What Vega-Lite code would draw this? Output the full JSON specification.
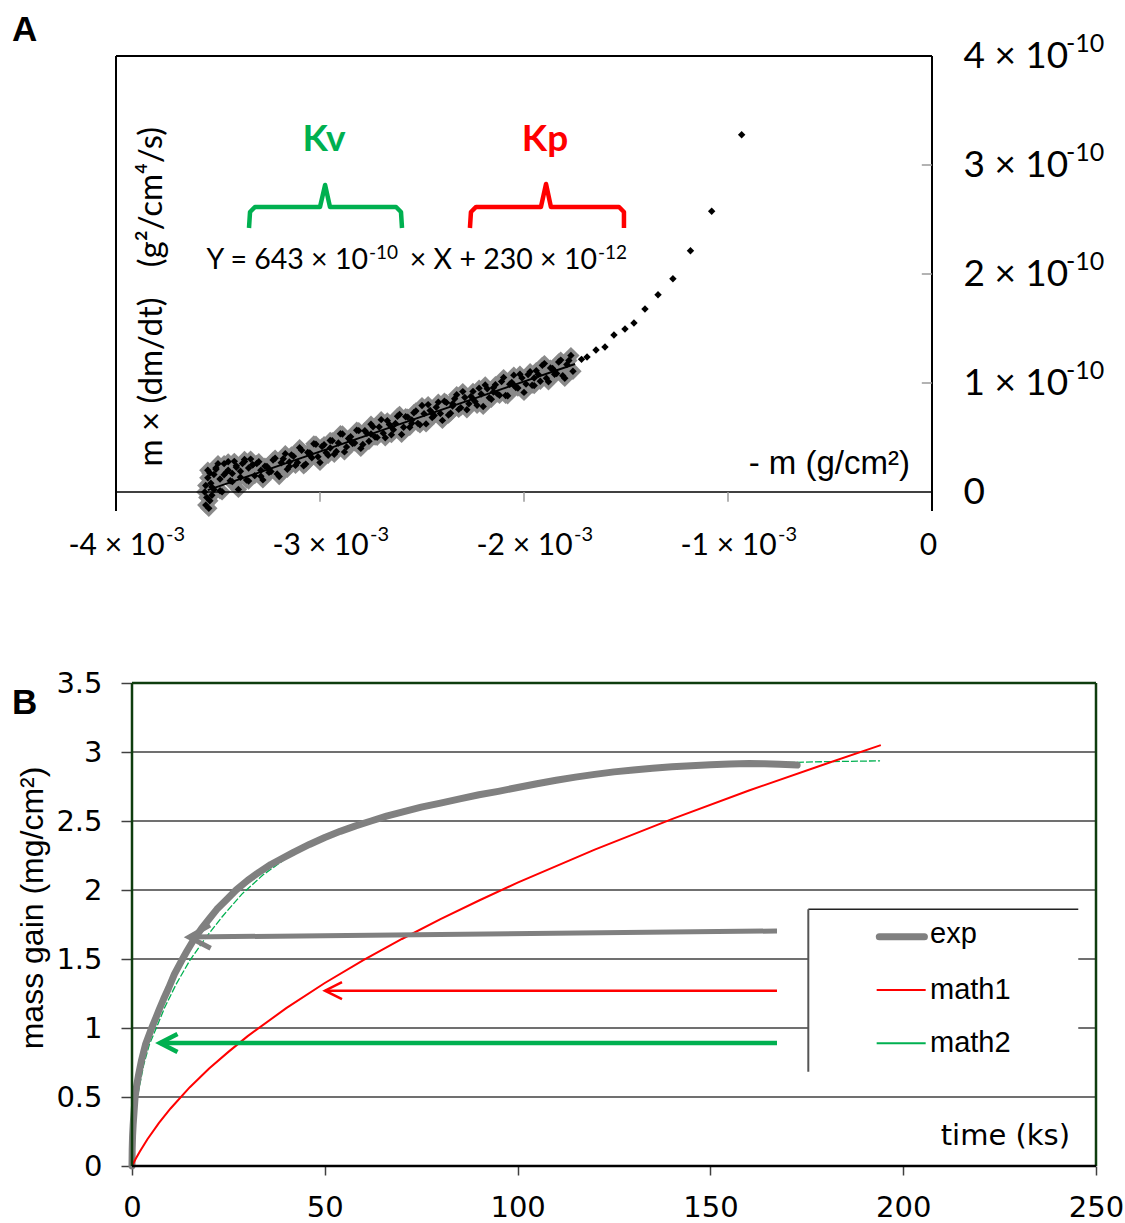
{
  "$schema": "https://vega.github.io/schema/vega-lite/v6.json",
  "width": 1125,
  "height": 1223,
  "autosize": {"type": "none"},
  "padding": 0,
  "background": "white",
  "config": {
    "view": {"stroke": null},
    "axis": {"grid": false, "domain": false, "labelOverlap": false, "labelFlush": false, "labelColor": "black", "labelBound": false}
  },
  "datasets": {
    "scatter": [
      {"X": -3.565e-3, "Y": 0.0e-10, "s": "fit"},
      {"X": -3.56e-3, "Y": -0.12e-10, "s": "fit"},
      {"X": -3.555e-3, "Y": -0.05e-10, "s": "fit"},
      {"X": -3.56e-3, "Y": 0.06e-10, "s": "fit"},
      {"X": -3.55e-3, "Y": 0.13e-10, "s": "fit"},
      {"X": -3.545e-3, "Y": -0.15e-10, "s": "fit"},
      {"X": -3.55e-3, "Y": 0.2e-10, "s": "fit"},
      {"X": -3.54e-3, "Y": -0.08e-10, "s": "fit"},
      {"X": -3.535e-3, "Y": 0.08e-10, "s": "fit"},
      {"X": -3.53e-3, "Y": -0.03e-10, "s": "fit"},
      {"X": -3.52e-3, "Y": 0.16e-10, "s": "fit"},
      {"X": -3.51e-3, "Y": 0.22e-10, "s": "fit"},
      {"X": -3.49e-3, "Y": 0.12e-10, "s": "fit"},
      {"X": -3.47e-3, "Y": 0.26e-10, "s": "fit"},
      {"X": -3.45e-3, "Y": 0.2e-10, "s": "fit"},
      {"X": -3.43e-3, "Y": 0.17e-10, "s": "fit"},
      {"X": -3.41e-3, "Y": 0.24e-10, "s": "fit"},
      {"X": -3.39e-3, "Y": 0.19e-10, "s": "fit"},
      {"X": -3.37e-3, "Y": 0.28e-10, "s": "fit"},
      {"X": -3.35e-3, "Y": 0.22e-10, "s": "fit"},
      {"X": -3.33e-3, "Y": 0.25e-10, "s": "fit"},
      {"X": -3.29e-3, "Y": 0.2e-10, "s": "fit"},
      {"X": -3.54e-3, "Y": 0.174e-10, "s": "fit"},
      {"X": -3.52e-3, "Y": 0.022e-10, "s": "fit"},
      {"X": -3.50e-3, "Y": 0.26e-10, "s": "fit"},
      {"X": -3.48e-3, "Y": 0.002e-10, "s": "fit"},
      {"X": -3.46e-3, "Y": 0.18e-10, "s": "fit"},
      {"X": -3.44e-3, "Y": 0.103e-10, "s": "fit"},
      {"X": -3.42e-3, "Y": 0.281e-10, "s": "fit"},
      {"X": -3.40e-3, "Y": 0.024e-10, "s": "fit"},
      {"X": -3.38e-3, "Y": 0.262e-10, "s": "fit"},
      {"X": -3.36e-3, "Y": 0.11e-10, "s": "fit"},
      {"X": -3.34e-3, "Y": 0.302e-10, "s": "fit"},
      {"X": -3.32e-3, "Y": 0.15e-10, "s": "fit"},
      {"X": -3.30e-3, "Y": 0.278e-10, "s": "fit"},
      {"X": -3.28e-3, "Y": 0.111e-10, "s": "fit"},
      {"X": -3.26e-3, "Y": 0.234e-10, "s": "fit"},
      {"X": -3.24e-3, "Y": 0.187e-10, "s": "fit"},
      {"X": -3.22e-3, "Y": 0.31e-10, "s": "fit"},
      {"X": -3.20e-3, "Y": 0.142e-10, "s": "fit"},
      {"X": -3.18e-3, "Y": 0.305e-10, "s": "fit"},
      {"X": -3.16e-3, "Y": 0.208e-10, "s": "fit"},
      {"X": -3.14e-3, "Y": 0.341e-10, "s": "fit"},
      {"X": -3.12e-3, "Y": 0.244e-10, "s": "fit"},
      {"X": -3.10e-3, "Y": 0.407e-10, "s": "fit"},
      {"X": -3.08e-3, "Y": 0.24e-10, "s": "fit"},
      {"X": -3.06e-3, "Y": 0.362e-10, "s": "fit"},
      {"X": -3.04e-3, "Y": 0.315e-10, "s": "fit"},
      {"X": -3.02e-3, "Y": 0.438e-10, "s": "fit"},
      {"X": -3.00e-3, "Y": 0.271e-10, "s": "fit"},
      {"X": -2.98e-3, "Y": 0.434e-10, "s": "fit"},
      {"X": -2.96e-3, "Y": 0.337e-10, "s": "fit"},
      {"X": -2.94e-3, "Y": 0.47e-10, "s": "fit"},
      {"X": -2.92e-3, "Y": 0.372e-10, "s": "fit"},
      {"X": -2.90e-3, "Y": 0.535e-10, "s": "fit"},
      {"X": -2.88e-3, "Y": 0.368e-10, "s": "fit"},
      {"X": -2.86e-3, "Y": 0.491e-10, "s": "fit"},
      {"X": -2.84e-3, "Y": 0.444e-10, "s": "fit"},
      {"X": -2.82e-3, "Y": 0.567e-10, "s": "fit"},
      {"X": -2.80e-3, "Y": 0.40e-10, "s": "fit"},
      {"X": -2.78e-3, "Y": 0.562e-10, "s": "fit"},
      {"X": -2.76e-3, "Y": 0.465e-10, "s": "fit"},
      {"X": -2.74e-3, "Y": 0.598e-10, "s": "fit"},
      {"X": -2.72e-3, "Y": 0.501e-10, "s": "fit"},
      {"X": -2.70e-3, "Y": 0.664e-10, "s": "fit"},
      {"X": -2.68e-3, "Y": 0.497e-10, "s": "fit"},
      {"X": -2.66e-3, "Y": 0.62e-10, "s": "fit"},
      {"X": -2.64e-3, "Y": 0.572e-10, "s": "fit"},
      {"X": -2.62e-3, "Y": 0.695e-10, "s": "fit"},
      {"X": -2.60e-3, "Y": 0.528e-10, "s": "fit"},
      {"X": -2.58e-3, "Y": 0.691e-10, "s": "fit"},
      {"X": -2.56e-3, "Y": 0.594e-10, "s": "fit"},
      {"X": -2.54e-3, "Y": 0.727e-10, "s": "fit"},
      {"X": -2.52e-3, "Y": 0.63e-10, "s": "fit"},
      {"X": -2.50e-3, "Y": 0.793e-10, "s": "fit"},
      {"X": -2.48e-3, "Y": 0.625e-10, "s": "fit"},
      {"X": -2.46e-3, "Y": 0.748e-10, "s": "fit"},
      {"X": -2.44e-3, "Y": 0.701e-10, "s": "fit"},
      {"X": -2.42e-3, "Y": 0.824e-10, "s": "fit"},
      {"X": -2.40e-3, "Y": 0.657e-10, "s": "fit"},
      {"X": -2.38e-3, "Y": 0.82e-10, "s": "fit"},
      {"X": -2.36e-3, "Y": 0.723e-10, "s": "fit"},
      {"X": -2.34e-3, "Y": 0.855e-10, "s": "fit"},
      {"X": -2.32e-3, "Y": 0.758e-10, "s": "fit"},
      {"X": -2.30e-3, "Y": 0.921e-10, "s": "fit"},
      {"X": -2.28e-3, "Y": 0.754e-10, "s": "fit"},
      {"X": -2.26e-3, "Y": 0.877e-10, "s": "fit"},
      {"X": -2.24e-3, "Y": 0.83e-10, "s": "fit"},
      {"X": -2.22e-3, "Y": 0.953e-10, "s": "fit"},
      {"X": -2.20e-3, "Y": 0.785e-10, "s": "fit"},
      {"X": -2.18e-3, "Y": 0.948e-10, "s": "fit"},
      {"X": -2.16e-3, "Y": 0.851e-10, "s": "fit"},
      {"X": -2.14e-3, "Y": 0.984e-10, "s": "fit"},
      {"X": -2.12e-3, "Y": 0.887e-10, "s": "fit"},
      {"X": -2.10e-3, "Y": 1.05e-10, "s": "fit"},
      {"X": -2.08e-3, "Y": 0.883e-10, "s": "fit"},
      {"X": -2.06e-3, "Y": 1.005e-10, "s": "fit"},
      {"X": -2.04e-3, "Y": 0.958e-10, "s": "fit"},
      {"X": -2.02e-3, "Y": 1.081e-10, "s": "fit"},
      {"X": -2.00e-3, "Y": 0.914e-10, "s": "fit"},
      {"X": -1.98e-3, "Y": 1.077e-10, "s": "fit"},
      {"X": -1.96e-3, "Y": 0.98e-10, "s": "fit"},
      {"X": -1.94e-3, "Y": 1.113e-10, "s": "fit"},
      {"X": -1.92e-3, "Y": 1.016e-10, "s": "fit"},
      {"X": -1.90e-3, "Y": 1.178e-10, "s": "fit"},
      {"X": -1.88e-3, "Y": 1.011e-10, "s": "fit"},
      {"X": -1.86e-3, "Y": 1.134e-10, "s": "fit"},
      {"X": -1.84e-3, "Y": 1.087e-10, "s": "fit"},
      {"X": -1.82e-3, "Y": 1.21e-10, "s": "fit"},
      {"X": -1.80e-3, "Y": 1.043e-10, "s": "fit"},
      {"X": -1.78e-3, "Y": 1.206e-10, "s": "fit"},
      {"X": -1.76e-3, "Y": 1.108e-10, "s": "fit"},
      {"X": -3.25e-3, "Y": 0.21e-10, "s": "fit"},
      {"X": -3.15e-3, "Y": 0.275e-10, "s": "fit"},
      {"X": -3.05e-3, "Y": 0.339e-10, "s": "fit"},
      {"X": -2.95e-3, "Y": 0.403e-10, "s": "fit"},
      {"X": -2.85e-3, "Y": 0.467e-10, "s": "fit"},
      {"X": -2.75e-3, "Y": 0.532e-10, "s": "fit"},
      {"X": -2.65e-3, "Y": 0.596e-10, "s": "fit"},
      {"X": -2.55e-3, "Y": 0.66e-10, "s": "fit"},
      {"X": -2.45e-3, "Y": 0.725e-10, "s": "fit"},
      {"X": -2.35e-3, "Y": 0.789e-10, "s": "fit"},
      {"X": -2.25e-3, "Y": 0.853e-10, "s": "fit"},
      {"X": -2.15e-3, "Y": 0.918e-10, "s": "fit"},
      {"X": -2.05e-3, "Y": 0.982e-10, "s": "fit"},
      {"X": -1.95e-3, "Y": 1.046e-10, "s": "fit"},
      {"X": -1.85e-3, "Y": 1.111e-10, "s": "fit"},
      {"X": -3.53e-3, "Y": 0.045e-10, "s": "fit"},
      {"X": -3.51e-3, "Y": 0.208e-10, "s": "fit"},
      {"X": -3.49e-3, "Y": 0.011e-10, "s": "fit"},
      {"X": -3.47e-3, "Y": 0.159e-10, "s": "fit"},
      {"X": -3.45e-3, "Y": 0.277e-10, "s": "fit"},
      {"X": -3.43e-3, "Y": 0.095e-10, "s": "fit"},
      {"X": -3.41e-3, "Y": 0.227e-10, "s": "fit"},
      {"X": -3.39e-3, "Y": 0.135e-10, "s": "fit"},
      {"X": -3.37e-3, "Y": 0.298e-10, "s": "fit"},
      {"X": -3.35e-3, "Y": 0.101e-10, "s": "fit"},
      {"X": -3.33e-3, "Y": 0.249e-10, "s": "fit"},
      {"X": -3.31e-3, "Y": 0.262e-10, "s": "fit"},
      {"X": -3.29e-3, "Y": 0.145e-10, "s": "fit"},
      {"X": -3.27e-3, "Y": 0.237e-10, "s": "fit"},
      {"X": -3.25e-3, "Y": 0.18e-10, "s": "fit"},
      {"X": -3.23e-3, "Y": 0.293e-10, "s": "fit"},
      {"X": -3.21e-3, "Y": 0.166e-10, "s": "fit"},
      {"X": -3.19e-3, "Y": 0.269e-10, "s": "fit"},
      {"X": -3.17e-3, "Y": 0.352e-10, "s": "fit"},
      {"X": -3.15e-3, "Y": 0.235e-10, "s": "fit"},
      {"X": -3.13e-3, "Y": 0.327e-10, "s": "fit"},
      {"X": -3.11e-3, "Y": 0.27e-10, "s": "fit"},
      {"X": -3.09e-3, "Y": 0.383e-10, "s": "fit"},
      {"X": -3.07e-3, "Y": 0.256e-10, "s": "fit"},
      {"X": -3.05e-3, "Y": 0.359e-10, "s": "fit"},
      {"X": -3.03e-3, "Y": 0.442e-10, "s": "fit"},
      {"X": -3.01e-3, "Y": 0.324e-10, "s": "fit"},
      {"X": -2.99e-3, "Y": 0.417e-10, "s": "fit"},
      {"X": -2.97e-3, "Y": 0.36e-10, "s": "fit"},
      {"X": -2.95e-3, "Y": 0.473e-10, "s": "fit"},
      {"X": -2.93e-3, "Y": 0.346e-10, "s": "fit"},
      {"X": -2.91e-3, "Y": 0.449e-10, "s": "fit"},
      {"X": -2.89e-3, "Y": 0.532e-10, "s": "fit"},
      {"X": -2.87e-3, "Y": 0.414e-10, "s": "fit"},
      {"X": -2.85e-3, "Y": 0.507e-10, "s": "fit"},
      {"X": -2.83e-3, "Y": 0.45e-10, "s": "fit"},
      {"X": -2.81e-3, "Y": 0.563e-10, "s": "fit"},
      {"X": -2.79e-3, "Y": 0.436e-10, "s": "fit"},
      {"X": -2.77e-3, "Y": 0.539e-10, "s": "fit"},
      {"X": -2.75e-3, "Y": 0.622e-10, "s": "fit"},
      {"X": -2.73e-3, "Y": 0.504e-10, "s": "fit"},
      {"X": -2.71e-3, "Y": 0.597e-10, "s": "fit"},
      {"X": -2.69e-3, "Y": 0.54e-10, "s": "fit"},
      {"X": -2.67e-3, "Y": 0.653e-10, "s": "fit"},
      {"X": -2.65e-3, "Y": 0.526e-10, "s": "fit"},
      {"X": -2.63e-3, "Y": 0.629e-10, "s": "fit"},
      {"X": -2.61e-3, "Y": 0.712e-10, "s": "fit"},
      {"X": -2.59e-3, "Y": 0.594e-10, "s": "fit"},
      {"X": -2.57e-3, "Y": 0.687e-10, "s": "fit"},
      {"X": -2.55e-3, "Y": 0.63e-10, "s": "fit"},
      {"X": -2.53e-3, "Y": 0.743e-10, "s": "fit"},
      {"X": -2.51e-3, "Y": 0.616e-10, "s": "fit"},
      {"X": -2.49e-3, "Y": 0.719e-10, "s": "fit"},
      {"X": -2.47e-3, "Y": 0.802e-10, "s": "fit"},
      {"X": -2.45e-3, "Y": 0.684e-10, "s": "fit"},
      {"X": -2.43e-3, "Y": 0.777e-10, "s": "fit"},
      {"X": -2.41e-3, "Y": 0.72e-10, "s": "fit"},
      {"X": -2.39e-3, "Y": 0.833e-10, "s": "fit"},
      {"X": -2.37e-3, "Y": 0.706e-10, "s": "fit"},
      {"X": -2.35e-3, "Y": 0.809e-10, "s": "fit"},
      {"X": -2.33e-3, "Y": 0.892e-10, "s": "fit"},
      {"X": -2.31e-3, "Y": 0.774e-10, "s": "fit"},
      {"X": -2.29e-3, "Y": 0.867e-10, "s": "fit"},
      {"X": -2.27e-3, "Y": 0.81e-10, "s": "fit"},
      {"X": -2.25e-3, "Y": 0.923e-10, "s": "fit"},
      {"X": -2.23e-3, "Y": 0.796e-10, "s": "fit"},
      {"X": -2.21e-3, "Y": 0.899e-10, "s": "fit"},
      {"X": -2.19e-3, "Y": 0.982e-10, "s": "fit"},
      {"X": -2.17e-3, "Y": 0.864e-10, "s": "fit"},
      {"X": -2.15e-3, "Y": 0.957e-10, "s": "fit"},
      {"X": -2.13e-3, "Y": 0.9e-10, "s": "fit"},
      {"X": -2.11e-3, "Y": 1.013e-10, "s": "fit"},
      {"X": -2.09e-3, "Y": 0.886e-10, "s": "fit"},
      {"X": -2.07e-3, "Y": 0.989e-10, "s": "fit"},
      {"X": -2.05e-3, "Y": 1.072e-10, "s": "fit"},
      {"X": -2.03e-3, "Y": 0.954e-10, "s": "fit"},
      {"X": -2.01e-3, "Y": 1.047e-10, "s": "fit"},
      {"X": -1.99e-3, "Y": 0.99e-10, "s": "fit"},
      {"X": -1.97e-3, "Y": 1.103e-10, "s": "fit"},
      {"X": -1.95e-3, "Y": 0.976e-10, "s": "fit"},
      {"X": -1.93e-3, "Y": 1.079e-10, "s": "fit"},
      {"X": -1.91e-3, "Y": 1.162e-10, "s": "fit"},
      {"X": -1.89e-3, "Y": 1.044e-10, "s": "fit"},
      {"X": -1.87e-3, "Y": 1.137e-10, "s": "fit"},
      {"X": -1.85e-3, "Y": 1.08e-10, "s": "fit"},
      {"X": -1.83e-3, "Y": 1.193e-10, "s": "fit"},
      {"X": -1.81e-3, "Y": 1.066e-10, "s": "fit"},
      {"X": -1.79e-3, "Y": 1.169e-10, "s": "fit"},
      {"X": -1.77e-3, "Y": 1.252e-10, "s": "fit"},
      {"X": -1.718e-3, "Y": 1.217e-10, "s": "tail"},
      {"X": -1.691e-3, "Y": 1.239e-10, "s": "tail"},
      {"X": -1.647e-3, "Y": 1.303e-10, "s": "tail"},
      {"X": -1.603e-3, "Y": 1.33e-10, "s": "tail"},
      {"X": -1.559e-3, "Y": 1.44e-10, "s": "tail"},
      {"X": -1.505e-3, "Y": 1.495e-10, "s": "tail"},
      {"X": -1.461e-3, "Y": 1.55e-10, "s": "tail"},
      {"X": -1.407e-3, "Y": 1.679e-10, "s": "tail"},
      {"X": -1.343e-3, "Y": 1.81e-10, "s": "tail"},
      {"X": -1.27e-3, "Y": 1.957e-10, "s": "tail"},
      {"X": -1.184e-3, "Y": 2.214e-10, "s": "tail"},
      {"X": -1.08e-3, "Y": 2.575e-10, "s": "tail"},
      {"X": -0.933e-3, "Y": 3.278e-10, "s": "tail"}
    ],
    "fit": [
      {"X": -3.55e-3, "Y": 0.01735e-10},
      {"X": -1.75e-3, "Y": 1.17475e-10}
    ],
    "braces": [
      {"brace": "Kv", "i": 0, "X": -3.348e-3, "Y": 2.422e-10},
      {"brace": "Kv", "i": 1, "X": -3.343e-3, "Y": 2.569e-10},
      {"brace": "Kv", "i": 2, "X": -3.319e-3, "Y": 2.615e-10},
      {"brace": "Kv", "i": 3, "X": -3.0e-3, "Y": 2.615e-10},
      {"brace": "Kv", "i": 4, "X": -2.975e-3, "Y": 2.817e-10},
      {"brace": "Kv", "i": 5, "X": -2.951e-3, "Y": 2.615e-10},
      {"brace": "Kv", "i": 6, "X": -2.627e-3, "Y": 2.615e-10},
      {"brace": "Kv", "i": 7, "X": -2.603e-3, "Y": 2.569e-10},
      {"brace": "Kv", "i": 8, "X": -2.598e-3, "Y": 2.422e-10},
      {"brace": "Kp", "i": 0, "X": -2.265e-3, "Y": 2.422e-10},
      {"brace": "Kp", "i": 1, "X": -2.26e-3, "Y": 2.569e-10},
      {"brace": "Kp", "i": 2, "X": -2.235e-3, "Y": 2.615e-10},
      {"brace": "Kp", "i": 3, "X": -1.917e-3, "Y": 2.615e-10},
      {"brace": "Kp", "i": 4, "X": -1.892e-3, "Y": 2.826e-10},
      {"brace": "Kp", "i": 5, "X": -1.868e-3, "Y": 2.615e-10},
      {"brace": "Kp", "i": 6, "X": -1.534e-3, "Y": 2.615e-10},
      {"brace": "Kp", "i": 7, "X": -1.51e-3, "Y": 2.569e-10},
      {"brace": "Kp", "i": 8, "X": -1.51e-3, "Y": 2.422e-10}
    ],
    "aticks": [
      {"X": -3e-3, "X2": -3e-3, "Y": 0, "Y2": -0.09e-10},
      {"X": -2e-3, "X2": -2e-3, "Y": 0, "Y2": -0.09e-10},
      {"X": -1e-3, "X2": -1e-3, "Y": 0, "Y2": -0.09e-10},
      {"X": -0.05e-3, "X2": 0, "Y": 1e-10, "Y2": 1e-10},
      {"X": -0.05e-3, "X2": 0, "Y": 2e-10, "Y2": 2e-10},
      {"X": -0.05e-3, "X2": 0, "Y": 3e-10, "Y2": 3e-10}
    ],
    "xsup": [{"v": -0.004}, {"v": -0.003}, {"v": -0.002}, {"v": -0.001}],
    "ysup": [{"v": 1e-10}, {"v": 2e-10}, {"v": 3e-10}, {"v": 4e-10}],
    "massgain": [
      {"series": "exp", "t": 0, "m": 0},
      {"series": "exp", "t": 0.05, "m": 0.12},
      {"series": "exp", "t": 0.15, "m": 0.22},
      {"series": "exp", "t": 0.3, "m": 0.3},
      {"series": "exp", "t": 0.55, "m": 0.4},
      {"series": "exp", "t": 0.8, "m": 0.5},
      {"series": "exp", "t": 1.2, "m": 0.58},
      {"series": "exp", "t": 1.7, "m": 0.66},
      {"series": "exp", "t": 2.5, "m": 0.77},
      {"series": "exp", "t": 3.5, "m": 0.88},
      {"series": "exp", "t": 4.3, "m": 0.94},
      {"series": "exp", "t": 5.1, "m": 1.0},
      {"series": "exp", "t": 6, "m": 1.06},
      {"series": "exp", "t": 7, "m": 1.13},
      {"series": "exp", "t": 8.2, "m": 1.21},
      {"series": "exp", "t": 9.5, "m": 1.29},
      {"series": "exp", "t": 11, "m": 1.39},
      {"series": "exp", "t": 12.7, "m": 1.48},
      {"series": "exp", "t": 14.3, "m": 1.56},
      {"series": "exp", "t": 16, "m": 1.64},
      {"series": "exp", "t": 18, "m": 1.72},
      {"series": "exp", "t": 20, "m": 1.79},
      {"series": "exp", "t": 22, "m": 1.86},
      {"series": "exp", "t": 24.5, "m": 1.93},
      {"series": "exp", "t": 27, "m": 2.0},
      {"series": "exp", "t": 30, "m": 2.07},
      {"series": "exp", "t": 33, "m": 2.13},
      {"series": "exp", "t": 36, "m": 2.185},
      {"series": "exp", "t": 39, "m": 2.23},
      {"series": "exp", "t": 42, "m": 2.275},
      {"series": "exp", "t": 46, "m": 2.33},
      {"series": "exp", "t": 50, "m": 2.38},
      {"series": "exp", "t": 54, "m": 2.425},
      {"series": "exp", "t": 58, "m": 2.465},
      {"series": "exp", "t": 62, "m": 2.5},
      {"series": "exp", "t": 66, "m": 2.535},
      {"series": "exp", "t": 70, "m": 2.565},
      {"series": "exp", "t": 75, "m": 2.6},
      {"series": "exp", "t": 80, "m": 2.63},
      {"series": "exp", "t": 85, "m": 2.66},
      {"series": "exp", "t": 90, "m": 2.69},
      {"series": "exp", "t": 95, "m": 2.715},
      {"series": "exp", "t": 100, "m": 2.743},
      {"series": "exp", "t": 105, "m": 2.77},
      {"series": "exp", "t": 110, "m": 2.795},
      {"series": "exp", "t": 115, "m": 2.818},
      {"series": "exp", "t": 120, "m": 2.838},
      {"series": "exp", "t": 125, "m": 2.856},
      {"series": "exp", "t": 130, "m": 2.87},
      {"series": "exp", "t": 135, "m": 2.883},
      {"series": "exp", "t": 140, "m": 2.893},
      {"series": "exp", "t": 145, "m": 2.901},
      {"series": "exp", "t": 150, "m": 2.908},
      {"series": "exp", "t": 155, "m": 2.913},
      {"series": "exp", "t": 160, "m": 2.916},
      {"series": "exp", "t": 164, "m": 2.915},
      {"series": "exp", "t": 168, "m": 2.911},
      {"series": "exp", "t": 172.5, "m": 2.905},
      {"series": "math1", "t": 0, "m": 0},
      {"series": "math1", "t": 1, "m": 0.054},
      {"series": "math1", "t": 2, "m": 0.104},
      {"series": "math1", "t": 4, "m": 0.194},
      {"series": "math1", "t": 7, "m": 0.313},
      {"series": "math1", "t": 10, "m": 0.417},
      {"series": "math1", "t": 15, "m": 0.571},
      {"series": "math1", "t": 20, "m": 0.706},
      {"series": "math1", "t": 25, "m": 0.827},
      {"series": "math1", "t": 30, "m": 0.941},
      {"series": "math1", "t": 40, "m": 1.144},
      {"series": "math1", "t": 50, "m": 1.326},
      {"series": "math1", "t": 60, "m": 1.492},
      {"series": "math1", "t": 70, "m": 1.645},
      {"series": "math1", "t": 80, "m": 1.789},
      {"series": "math1", "t": 90, "m": 1.924},
      {"series": "math1", "t": 100, "m": 2.053},
      {"series": "math1", "t": 120, "m": 2.293},
      {"series": "math1", "t": 140, "m": 2.514},
      {"series": "math1", "t": 160, "m": 2.721},
      {"series": "math1", "t": 180, "m": 2.915},
      {"series": "math1", "t": 194.2, "m": 3.05},
      {"series": "math2", "t": 0, "m": 0},
      {"series": "math2", "t": 0.5, "m": 0.28},
      {"series": "math2", "t": 1.4, "m": 0.5},
      {"series": "math2", "t": 3, "m": 0.73},
      {"series": "math2", "t": 4.5, "m": 0.88},
      {"series": "math2", "t": 6.3, "m": 1.0},
      {"series": "math2", "t": 8.5, "m": 1.15},
      {"series": "math2", "t": 11.5, "m": 1.32},
      {"series": "math2", "t": 15, "m": 1.49},
      {"series": "math2", "t": 19, "m": 1.65},
      {"series": "math2", "t": 23.5, "m": 1.81},
      {"series": "math2", "t": 28.5, "m": 1.97},
      {"series": "math2", "t": 34, "m": 2.11},
      {"series": "math2", "t": 40, "m": 2.23},
      {"series": "math2", "t": 46, "m": 2.32},
      {"series": "math2", "t": 54, "m": 2.415},
      {"series": "math2", "t": 62, "m": 2.495},
      {"series": "math2", "t": 70, "m": 2.56},
      {"series": "math2", "t": 80, "m": 2.625},
      {"series": "math2", "t": 90, "m": 2.685},
      {"series": "math2", "t": 100, "m": 2.738},
      {"series": "math2", "t": 110, "m": 2.79},
      {"series": "math2", "t": 120, "m": 2.833},
      {"series": "math2", "t": 130, "m": 2.865},
      {"series": "math2", "t": 140, "m": 2.888},
      {"series": "math2", "t": 150, "m": 2.903},
      {"series": "math2", "t": 160, "m": 2.915},
      {"series": "math2", "t": 170, "m": 2.924},
      {"series": "math2", "t": 180, "m": 2.93},
      {"series": "math2", "t": 194, "m": 2.936}
    ],
    "arrows": [
      {"arrow": "exp", "part": "shaft", "i": 0, "t": 167.27, "m": 1.703},
      {"arrow": "exp", "part": "shaft", "i": 1, "t": 14.78, "m": 1.659},
      {"arrow": "exp", "part": "head", "i": 0, "t": 20.41, "m": 1.578},
      {"arrow": "exp", "part": "head", "i": 1, "t": 14.78, "m": 1.659},
      {"arrow": "exp", "part": "head", "i": 2, "t": 20.23, "m": 1.746},
      {"arrow": "math1", "part": "shaft", "i": 0, "t": 167.27, "m": 1.2703},
      {"arrow": "math1", "part": "shaft", "i": 1, "t": 50.05, "m": 1.2703},
      {"arrow": "math1", "part": "head", "i": 0, "t": 54.46, "m": 1.333},
      {"arrow": "math1", "part": "head", "i": 1, "t": 50.05, "m": 1.2703},
      {"arrow": "math1", "part": "head", "i": 2, "t": 54.46, "m": 1.21},
      {"arrow": "math2", "part": "shaft", "i": 0, "t": 167.27, "m": 0.8913},
      {"arrow": "math2", "part": "shaft", "i": 1, "t": 7.26, "m": 0.8913},
      {"arrow": "math2", "part": "head", "i": 0, "t": 11.8, "m": 0.9565},
      {"arrow": "math2", "part": "head", "i": 1, "t": 7.26, "m": 0.8913},
      {"arrow": "math2", "part": "head", "i": 2, "t": 11.8, "m": 0.826}
    ],
    "gridB": [
      {"level": 0.5}, {"level": 1}, {"level": 1.5}, {"level": 2}, {"level": 2.5}, {"level": 3}
    ]
  },
  "layer": [
    {
      "layer": [
        {
          "data": {"name": "scatter"},
          "transform": [{"filter": "datum.s == 'fit'"}],
          "mark": {"type": "point", "shape": "diamond", "filled": true, "color": "#8a8a8a", "size": 300, "opacity": 1},
          "encoding": {
            "x": {"field": "X", "type": "quantitative",
              "scale": {"domain": [-0.00456863, 0.00094608], "nice": false, "zero": false},
              "axis": {"orient": "bottom", "offset": -712, "values": [-0.004, -0.003, -0.002, -0.001, 0], "ticks": false, "tickSize": 0, "labelPadding": 19, "labelFont": "Lato", "labelFontSize": 30, "labelOffset": {"condition": {"test": "datum.value == 0", "value": -4}, "value": 0}, "labelExpr": "datum.value == 0 ? '0' : '-' + round(-datum.value * 1000) + ' × 10'", "title": null}},
            "y": {"field": "Y", "type": "quantitative",
              "scale": {"domain": [-6.7064e-10, 4.5138e-10], "nice": false, "zero": false},
              "axis": {"orient": "right", "offset": -193, "values": [0, 1e-10, 2e-10, 3e-10, 4e-10], "ticks": false, "tickSize": 0, "labelPadding": 31, "labelFont": "Lato", "labelFontSize": 37, "labelExpr": "datum.value == 0 ? '0' : round(datum.value * 1e10) + ' × 10'", "title": null}}
          }
        },
        {
          "data": {"name": "fit"},
          "mark": {"type": "line", "color": "black", "strokeWidth": 2},
          "encoding": {"x": {"field": "X", "type": "quantitative"}, "y": {"field": "Y", "type": "quantitative"}}
        },
        {
          "data": {"name": "scatter"},
          "mark": {"type": "point", "shape": "diamond", "filled": true, "color": "black", "size": 55, "opacity": 1},
          "encoding": {"x": {"field": "X", "type": "quantitative"}, "y": {"field": "Y", "type": "quantitative"}}
        },
        {
          "data": {"values": [{}]},
          "mark": {"type": "rule", "color": "black", "strokeWidth": 2},
          "encoding": {"x": {"datum": -0.004, "type": "quantitative"}, "x2": {"datum": 0}, "y": {"datum": 4e-10, "type": "quantitative"}}
        },
        {
          "data": {"values": [{}]},
          "mark": {"type": "rule", "color": "black", "strokeWidth": 2},
          "encoding": {"x": {"datum": -0.004, "type": "quantitative"}, "y": {"datum": 4e-10, "type": "quantitative"}, "y2": {"datum": -0.1743e-10}}
        },
        {
          "data": {"values": [{}]},
          "mark": {"type": "rule", "color": "black", "strokeWidth": 2},
          "encoding": {"x": {"datum": 0, "type": "quantitative"}, "y": {"datum": 4e-10, "type": "quantitative"}, "y2": {"datum": -0.1743e-10}}
        },
        {
          "data": {"values": [{}]},
          "mark": {"type": "rule", "color": "black", "strokeWidth": 1.5},
          "encoding": {"x": {"datum": -0.004, "type": "quantitative"}, "x2": {"datum": 0}, "y": {"datum": 0, "type": "quantitative"}}
        },
        {
          "data": {"name": "aticks"},
          "mark": {"type": "rule", "color": "#9a9a9a", "strokeWidth": 1.5},
          "encoding": {"x": {"field": "X", "type": "quantitative"}, "x2": {"field": "X2"}, "y": {"field": "Y", "type": "quantitative"}, "y2": {"field": "Y2"}}
        },
        {
          "data": {"name": "xsup"},
          "mark": {"type": "text", "text": "-3", "font": "Lato", "fontSize": 20, "color": "black", "align": "left", "baseline": "middle", "dx": 50},
          "encoding": {"x": {"field": "v", "type": "quantitative"}, "y": {"datum": -0.3945e-10, "type": "quantitative"}}
        },
        {
          "data": {"name": "ysup"},
          "mark": {"type": "text", "text": "-10", "font": "Lato", "fontSize": 25, "color": "black", "align": "left", "baseline": "middle", "dx": 134, "dy": -12},
          "encoding": {"x": {"datum": 0, "type": "quantitative"}, "y": {"field": "v", "type": "quantitative"}}
        },
        {
          "data": {"name": "braces"},
          "mark": {"type": "line", "strokeWidth": 4.5, "strokeJoin": "round"},
          "encoding": {
            "x": {"field": "X", "type": "quantitative"},
            "y": {"field": "Y", "type": "quantitative"},
            "order": {"field": "i"},
            "color": {"field": "brace", "type": "nominal", "scale": {"domain": ["Kv", "Kp"], "range": ["#00b050", "#ff0000"]}, "legend": null}
          }
        },
        {
          "data": {"values": [{}]},
          "mark": {"type": "text", "text": "Kv", "font": "Lato", "fontWeight": "bold", "fontSize": 37, "color": "#00b050", "align": "center", "baseline": "middle"},
          "encoding": {"x": {"datum": -0.00298, "type": "quantitative"}, "y": {"datum": 3.229e-10, "type": "quantitative"}}
        },
        {
          "data": {"values": [{}]},
          "mark": {"type": "text", "text": "Kp", "font": "Lato", "fontWeight": "bold", "fontSize": 37, "color": "#ff0000", "align": "center", "baseline": "middle"},
          "encoding": {"x": {"datum": -0.001897, "type": "quantitative"}, "y": {"datum": 3.229e-10, "type": "quantitative"}}
        },
        {
          "data": {"values": [{}]},
          "mark": {"type": "text", "text": "Y = 643 × 10", "font": "Lato", "fontSize": 28.5, "color": "black", "align": "right", "baseline": "middle"},
          "encoding": {"x": {"datum": -0.0027647, "type": "quantitative"}, "y": {"datum": 2.128e-10, "type": "quantitative"}}
        },
        {
          "data": {"values": [{}]},
          "mark": {"type": "text", "text": "-10", "font": "Lato", "fontSize": 19, "color": "black", "align": "left", "baseline": "middle", "dx": 1},
          "encoding": {"x": {"datum": -0.0027647, "type": "quantitative"}, "y": {"datum": 2.193e-10, "type": "quantitative"}}
        },
        {
          "data": {"values": [{}]},
          "mark": {"type": "text", "text": "× X + 230 × 10", "font": "Lato", "fontSize": 28.5, "color": "black", "align": "right", "baseline": "middle"},
          "encoding": {"x": {"datum": -0.0016422, "type": "quantitative"}, "y": {"datum": 2.128e-10, "type": "quantitative"}}
        },
        {
          "data": {"values": [{}]},
          "mark": {"type": "text", "text": "-12", "font": "Lato", "fontSize": 19, "color": "black", "align": "left", "baseline": "middle", "dx": 1},
          "encoding": {"x": {"datum": -0.0016422, "type": "quantitative"}, "y": {"datum": 2.193e-10, "type": "quantitative"}}
        },
        {
          "data": {"values": [{}]},
          "mark": {"type": "text", "text": "m × (dm/dt)", "font": "Lato", "fontSize": 33, "color": "black", "align": "center", "baseline": "middle", "angle": 270},
          "encoding": {"x": {"datum": -0.0038235, "type": "quantitative"}, "y": {"datum": 1.009e-10, "type": "quantitative"}}
        },
        {
          "data": {"values": [{}]},
          "mark": {"type": "text", "text": "(g²/cm⁴/s)", "font": "Lato", "fontSize": 33, "color": "black", "align": "center", "baseline": "middle", "angle": 270},
          "encoding": {"x": {"datum": -0.0038235, "type": "quantitative"}, "y": {"datum": 2.706e-10, "type": "quantitative"}}
        },
        {
          "data": {"values": [{}]},
          "mark": {"type": "text", "text": "- m (g/cm²)", "font": "Liberation Sans", "fontSize": 33, "color": "black", "align": "right", "baseline": "middle"},
          "encoding": {"x": {"datum": -0.000108, "type": "quantitative"}, "y": {"datum": 0.257e-10, "type": "quantitative"}}
        },
        {
          "data": {"values": [{}]},
          "mark": {"type": "text", "text": "A", "font": "Liberation Sans", "fontWeight": "bold", "fontSize": 35, "color": "black", "align": "left", "baseline": "middle"},
          "encoding": {"x": {"datum": -0.0045098, "type": "quantitative"}, "y": {"datum": 4.2385e-10, "type": "quantitative"}}
        }
      ]
    },
    {
      "layer": [
        {
          "data": {"name": "gridB"},
          "mark": {"type": "rule", "color": "#404040", "strokeWidth": 1.5},
          "encoding": {"x": {"datum": 0, "type": "quantitative"}, "x2": {"datum": 250}, "y": {"field": "level", "type": "quantitative"}}
        },
        {
          "data": {"name": "massgain"},
          "transform": [{"filter": "datum.series == 'math2'"}],
          "mark": {"type": "line", "color": "#00b050", "strokeWidth": 1.3, "strokeDash": [7, 2]},
          "encoding": {
            "x": {"field": "t", "type": "quantitative",
              "scale": {"domain": [-34.2324, 257.5207], "nice": false, "zero": false},
              "axis": {"orient": "bottom", "offset": -57, "values": [0, 50, 100, 150, 200, 250], "ticks": true, "tickSize": 9, "tickColor": "#404040", "tickWidth": 1.5, "labelPadding": 18, "labelFont": "DejaVu Sans", "labelFontSize": 29, "format": "d", "title": null}},
            "y": {"field": "m", "type": "quantitative",
              "scale": {"domain": [-0.41304, 8.44928], "nice": false, "zero": false},
              "axis": {"orient": "left", "offset": -132, "values": [0, 0.5, 1, 1.5, 2, 2.5, 3, 3.5], "ticks": true, "tickSize": 11, "tickColor": "#404040", "tickWidth": 1.5, "labelPadding": 19, "labelFont": "DejaVu Sans", "labelFontSize": 29, "format": "~g", "title": null}}
          }
        },
        {
          "data": {"name": "massgain"},
          "transform": [{"filter": "datum.series == 'exp'"}],
          "mark": {"type": "line", "color": "#808080", "strokeWidth": 7, "strokeCap": "round", "strokeJoin": "round"},
          "encoding": {"x": {"field": "t", "type": "quantitative"}, "y": {"field": "m", "type": "quantitative"}}
        },
        {
          "data": {"name": "massgain"},
          "transform": [{"filter": "datum.series == 'math1'"}],
          "mark": {"type": "line", "color": "#ff0000", "strokeWidth": 2},
          "encoding": {"x": {"field": "t", "type": "quantitative"}, "y": {"field": "m", "type": "quantitative"}}
        },
        {
          "data": {"name": "arrows"},
          "transform": [{"filter": "datum.arrow == 'exp'"}],
          "mark": {"type": "line", "color": "#808080", "strokeWidth": 5, "strokeJoin": "miter"},
          "encoding": {"x": {"field": "t", "type": "quantitative"}, "y": {"field": "m", "type": "quantitative"}, "detail": {"field": "part"}, "order": {"field": "i"}}
        },
        {
          "data": {"name": "arrows"},
          "transform": [{"filter": "datum.arrow == 'math1'"}],
          "mark": {"type": "line", "color": "#ff0000", "strokeWidth": 2.5, "strokeJoin": "miter"},
          "encoding": {"x": {"field": "t", "type": "quantitative"}, "y": {"field": "m", "type": "quantitative"}, "detail": {"field": "part"}, "order": {"field": "i"}}
        },
        {
          "data": {"name": "arrows"},
          "transform": [{"filter": "datum.arrow == 'math2'"}],
          "mark": {"type": "line", "color": "#00b050", "strokeWidth": 4.5, "strokeJoin": "miter"},
          "encoding": {"x": {"field": "t", "type": "quantitative"}, "y": {"field": "m", "type": "quantitative"}, "detail": {"field": "part"}, "order": {"field": "i"}}
        },
        {
          "data": {"values": [{}]},
          "mark": {"type": "rule", "color": "#0f3d0f", "strokeWidth": 2.5},
          "encoding": {"x": {"datum": 0, "type": "quantitative"}, "y": {"datum": 3.5, "type": "quantitative"}, "y2": {"datum": 0}}
        },
        {
          "data": {"values": [{}]},
          "mark": {"type": "rule", "color": "#0f3d0f", "strokeWidth": 2.5},
          "encoding": {"x": {"datum": 250, "type": "quantitative"}, "y": {"datum": 3.5, "type": "quantitative"}, "y2": {"datum": 0}}
        },
        {
          "data": {"values": [{}]},
          "mark": {"type": "rule", "color": "#0f3d0f", "strokeWidth": 2.5},
          "encoding": {"x": {"datum": 0, "type": "quantitative"}, "x2": {"datum": 250}, "y": {"datum": 3.5, "type": "quantitative"}}
        },
        {
          "data": {"values": [{}]},
          "mark": {"type": "rule", "color": "black", "strokeWidth": 2.5},
          "encoding": {"x": {"datum": 0, "type": "quantitative"}, "x2": {"datum": 250}, "y": {"datum": 0, "type": "quantitative"}}
        },
        {
          "data": {"values": [{}]},
          "mark": {"type": "rect", "fill": "white"},
          "encoding": {"x": {"datum": 175.39, "type": "quantitative"}, "x2": {"datum": 245.4}, "y": {"datum": 1.86, "type": "quantitative"}, "y2": {"datum": 0.683}}
        },
        {
          "data": {"values": [{}]},
          "mark": {"type": "rule", "color": "#222222", "strokeWidth": 1.5},
          "encoding": {"x": {"datum": 175.39, "type": "quantitative"}, "x2": {"datum": 245.4}, "y": {"datum": 1.86, "type": "quantitative"}}
        },
        {
          "data": {"values": [{}]},
          "mark": {"type": "rule", "color": "#555555", "strokeWidth": 2},
          "encoding": {"x": {"datum": 175.39, "type": "quantitative"}, "y": {"datum": 1.86, "type": "quantitative"}, "y2": {"datum": 0.683}}
        },
        {
          "data": {"values": [{}]},
          "mark": {"type": "rule", "color": "#808080", "strokeWidth": 7, "strokeCap": "round"},
          "encoding": {"x": {"datum": 193.8, "type": "quantitative"}, "x2": {"datum": 205.5}, "y": {"datum": 1.6616, "type": "quantitative"}}
        },
        {
          "data": {"values": [{}]},
          "mark": {"type": "rule", "color": "#ff0000", "strokeWidth": 2},
          "encoding": {"x": {"datum": 193.12, "type": "quantitative"}, "x2": {"datum": 205.83}, "y": {"datum": 1.2754, "type": "quantitative"}}
        },
        {
          "data": {"values": [{}]},
          "mark": {"type": "rule", "color": "#00b050", "strokeWidth": 2},
          "encoding": {"x": {"datum": 193.12, "type": "quantitative"}, "x2": {"datum": 205.83}, "y": {"datum": 0.8891, "type": "quantitative"}}
        },
        {
          "data": {"values": [{}]},
          "mark": {"type": "text", "text": "exp", "font": "Liberation Sans", "fontSize": 29, "color": "black", "align": "left", "baseline": "middle"},
          "encoding": {"x": {"datum": 206.95, "type": "quantitative"}, "y": {"datum": 1.681, "type": "quantitative"}}
        },
        {
          "data": {"values": [{}]},
          "mark": {"type": "text", "text": "math1", "font": "Liberation Sans", "fontSize": 29, "color": "black", "align": "left", "baseline": "middle"},
          "encoding": {"x": {"datum": 206.95, "type": "quantitative"}, "y": {"datum": 1.2754, "type": "quantitative"}}
        },
        {
          "data": {"values": [{}]},
          "mark": {"type": "text", "text": "math2", "font": "Liberation Sans", "fontSize": 29, "color": "black", "align": "left", "baseline": "middle"},
          "encoding": {"x": {"datum": 206.95, "type": "quantitative"}, "y": {"datum": 0.8891, "type": "quantitative"}}
        },
        {
          "data": {"values": [{}]},
          "mark": {"type": "text", "text": "time (ks)", "font": "DejaVu Sans", "fontSize": 29, "color": "black", "align": "right", "baseline": "middle"},
          "encoding": {"x": {"datum": 243.26, "type": "quantitative"}, "y": {"datum": 0.217, "type": "quantitative"}}
        },
        {
          "data": {"values": [{}]},
          "mark": {"type": "text", "text": "mass gain  (mg/cm²)", "font": "Liberation Sans", "fontSize": 32, "color": "black", "align": "center", "baseline": "middle", "angle": 270},
          "encoding": {"x": {"datum": -25.67, "type": "quantitative"}, "y": {"datum": 1.87, "type": "quantitative"}}
        },
        {
          "data": {"values": [{}]},
          "mark": {"type": "text", "text": "B", "font": "Liberation Sans", "fontWeight": "bold", "fontSize": 35, "color": "black", "align": "left", "baseline": "middle"},
          "encoding": {"x": {"datum": -31.12, "type": "quantitative"}, "y": {"datum": 3.355, "type": "quantitative"}}
        }
      ]
    }
  ],
  "resolve": {"scale": {"x": "independent", "y": "independent"}}
}
